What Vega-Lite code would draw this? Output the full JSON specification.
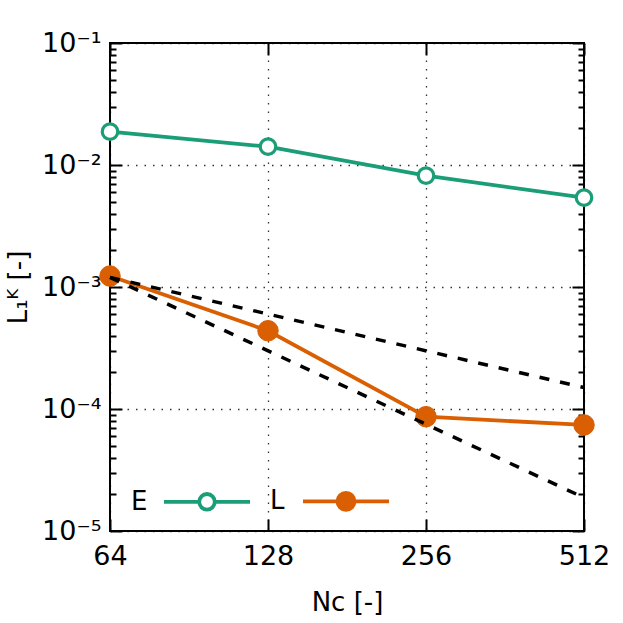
{
  "$schema": "https://vega.github.io/schema/vega-lite/v6.json",
  "width": 474,
  "height": 488,
  "autosize": "none",
  "padding": {"left": 110, "top": 43, "right": 39, "bottom": 92},
  "background": "white",
  "config": {
    "view": {"stroke": "black", "strokeWidth": 2},
    "font": "DejaVu Sans",
    "axis": {
      "domain": false,
      "tickColor": "black",
      "tickWidth": 2,
      "gridColor": "black",
      "gridDash": [1.5, 7],
      "gridOpacity": 0.8,
      "gridWidth": 1.3,
      "labelFont": "DejaVu Sans",
      "labelFontSize": 27,
      "labelColor": "black",
      "titleFont": "DejaVu Sans",
      "titleFontSize": 26,
      "titleFontWeight": "normal",
      "titleColor": "black",
      "labelFlush": false,
      "labelOverlap": false,
      "labelBound": false
    }
  },
  "data": {
    "values": [
      {"N": 64, "err": 0.01875, "series": "E"},
      {"N": 128, "err": 0.01413, "series": "E"},
      {"N": 256, "err": 0.00817, "series": "E"},
      {"N": 512, "err": 0.0054, "series": "E"},
      {"N": 64, "err": 0.00123, "series": "L"},
      {"N": 128, "err": 0.000438, "series": "L"},
      {"N": 256, "err": 0.0000865, "series": "L"},
      {"N": 512, "err": 0.000074, "series": "L"}
    ]
  },
  "resolve": {"axis": {"x": "independent", "y": "independent"}},
  "layer": [
    {
      "mark": {"type": "line", "strokeWidth": 3.8},
      "encoding": {
        "x": {
          "field": "N", "type": "quantitative",
          "scale": {"type": "log", "base": 2, "domain": [64, 512]},
          "axis": {"orient": "bottom", "values": [64, 128, 256, 512], "tickSize": -12, "labelPadding": 24, "grid": true, "format": "d", "title": "Nᴄ [-]", "titlePadding": 20}
        },
        "y": {
          "field": "err", "type": "quantitative",
          "scale": {"type": "log", "domain": [0.00001, 0.1]},
          "axis": {
            "orient": "left", "values": [0.00001, 0.0001, 0.001, 0.01, 0.1], "tickSize": -12, "labelPadding": 21, "grid": true,
            "labelExpr": "datum.value >= 0.05 ? '10⁻¹' : datum.value >= 0.005 ? '10⁻²' : datum.value >= 0.0005 ? '10⁻³' : datum.value >= 0.00005 ? '10⁻⁴' : '10⁻⁵'",
            "title": "L₁ᴷ [-]", "titlePadding": 10
          }
        },
        "stroke": {
          "field": "series", "type": "nominal",
          "scale": {"domain": ["E", "L"], "range": ["#1b9e77", "#d95f02"]},
          "legend": {
            "orient": "none", "legendX": 15, "legendY": 445, "direction": "horizontal", "title": null,
            "labelFontSize": 26, "labelFont": "DejaVu Sans", "labelColor": "black",
            "symbolSize": 400, "symbolStrokeWidth": 3.8, "labelOffset": -20, "symbolOffset": 0,
            "columnPadding": 6, "padding": 0,
            "encode": {
              "symbols": {
                "update": {
                  "shape": {"signal": "datum.value == 'E' ? 'M2.6,0H6.12M7.68,0H11.2M6.12,0A0.78,0.78 0 1,1 7.68,0A0.78,0.78 0 1,1 6.12,0Z' : 'M2.6,0H11.2M6.05,0A0.85,0.85 0 1,1 7.75,0A0.85,0.85 0 1,1 6.05,0Z'"},
                  "fill": {"signal": "datum.value == 'E' ? 'white' : '#d95f02'"},
                  "opacity": {"value": 1}
                }
              }
            }
          }
        }
      }
    },
    {
      "transform": [{"filter": "datum.series == 'E'"}],
      "mark": {"type": "point", "shape": "circle", "filled": true, "fill": "white", "stroke": "#1b9e77", "strokeWidth": 3.2, "size": 240, "opacity": 1},
      "encoding": {
        "x": {"field": "N", "type": "quantitative", "axis": {"orient": "top", "values": [64, 128, 256, 512], "tickSize": -12, "labels": false, "grid": false, "title": null}},
        "y": {"field": "err", "type": "quantitative", "axis": {"orient": "right", "values": [0.00001, 0.0001, 0.001, 0.01, 0.1], "tickSize": -12, "labels": false, "grid": false, "title": null}}
      }
    },
    {
      "transform": [{"filter": "datum.series == 'L'"}],
      "mark": {"type": "point", "shape": "circle", "filled": true, "fill": "#d95f02", "stroke": "#d95f02", "strokeWidth": 1, "size": 420, "opacity": 1},
      "encoding": {
        "x": {"field": "N", "type": "quantitative", "axis": null},
        "y": {"field": "err", "type": "quantitative", "axis": {"orient": "left", "values": [0.00002, 0.00003, 0.00004, 0.00005, 0.00006, 0.00007, 0.00008, 0.00009, 0.0002, 0.0003, 0.0004, 0.0005, 0.0006, 0.0007, 0.0008, 0.0009, 0.002, 0.003, 0.004, 0.005, 0.006, 0.007, 0.008, 0.009, 0.02, 0.03, 0.04, 0.05, 0.06, 0.07, 0.08, 0.09], "tickSize": -6, "labels": false, "grid": false, "title": null}}
      }
    },
    {
      "data": {
        "values": [
          {"N": 64, "err": 0.0012, "ref": "first"},
          {"N": 512, "err": 0.00015, "ref": "first"},
          {"N": 64, "err": 0.0012, "ref": "second"},
          {"N": 512, "err": 0.00001875, "ref": "second"}
        ]
      },
      "mark": {"type": "line", "color": "black", "strokeWidth": 3.5, "strokeDash": [10, 11]},
      "encoding": {
        "detail": {"field": "ref", "type": "nominal"},
        "x": {"field": "N", "type": "quantitative", "axis": null},
        "y": {"field": "err", "type": "quantitative", "axis": {"orient": "right", "values": [0.00002, 0.00003, 0.00004, 0.00005, 0.00006, 0.00007, 0.00008, 0.00009, 0.0002, 0.0003, 0.0004, 0.0005, 0.0006, 0.0007, 0.0008, 0.0009, 0.002, 0.003, 0.004, 0.005, 0.006, 0.007, 0.008, 0.009, 0.02, 0.03, 0.04, 0.05, 0.06, 0.07, 0.08, 0.09], "tickSize": -6, "labels": false, "grid": false, "title": null}}
      }
    }
  ]
}
